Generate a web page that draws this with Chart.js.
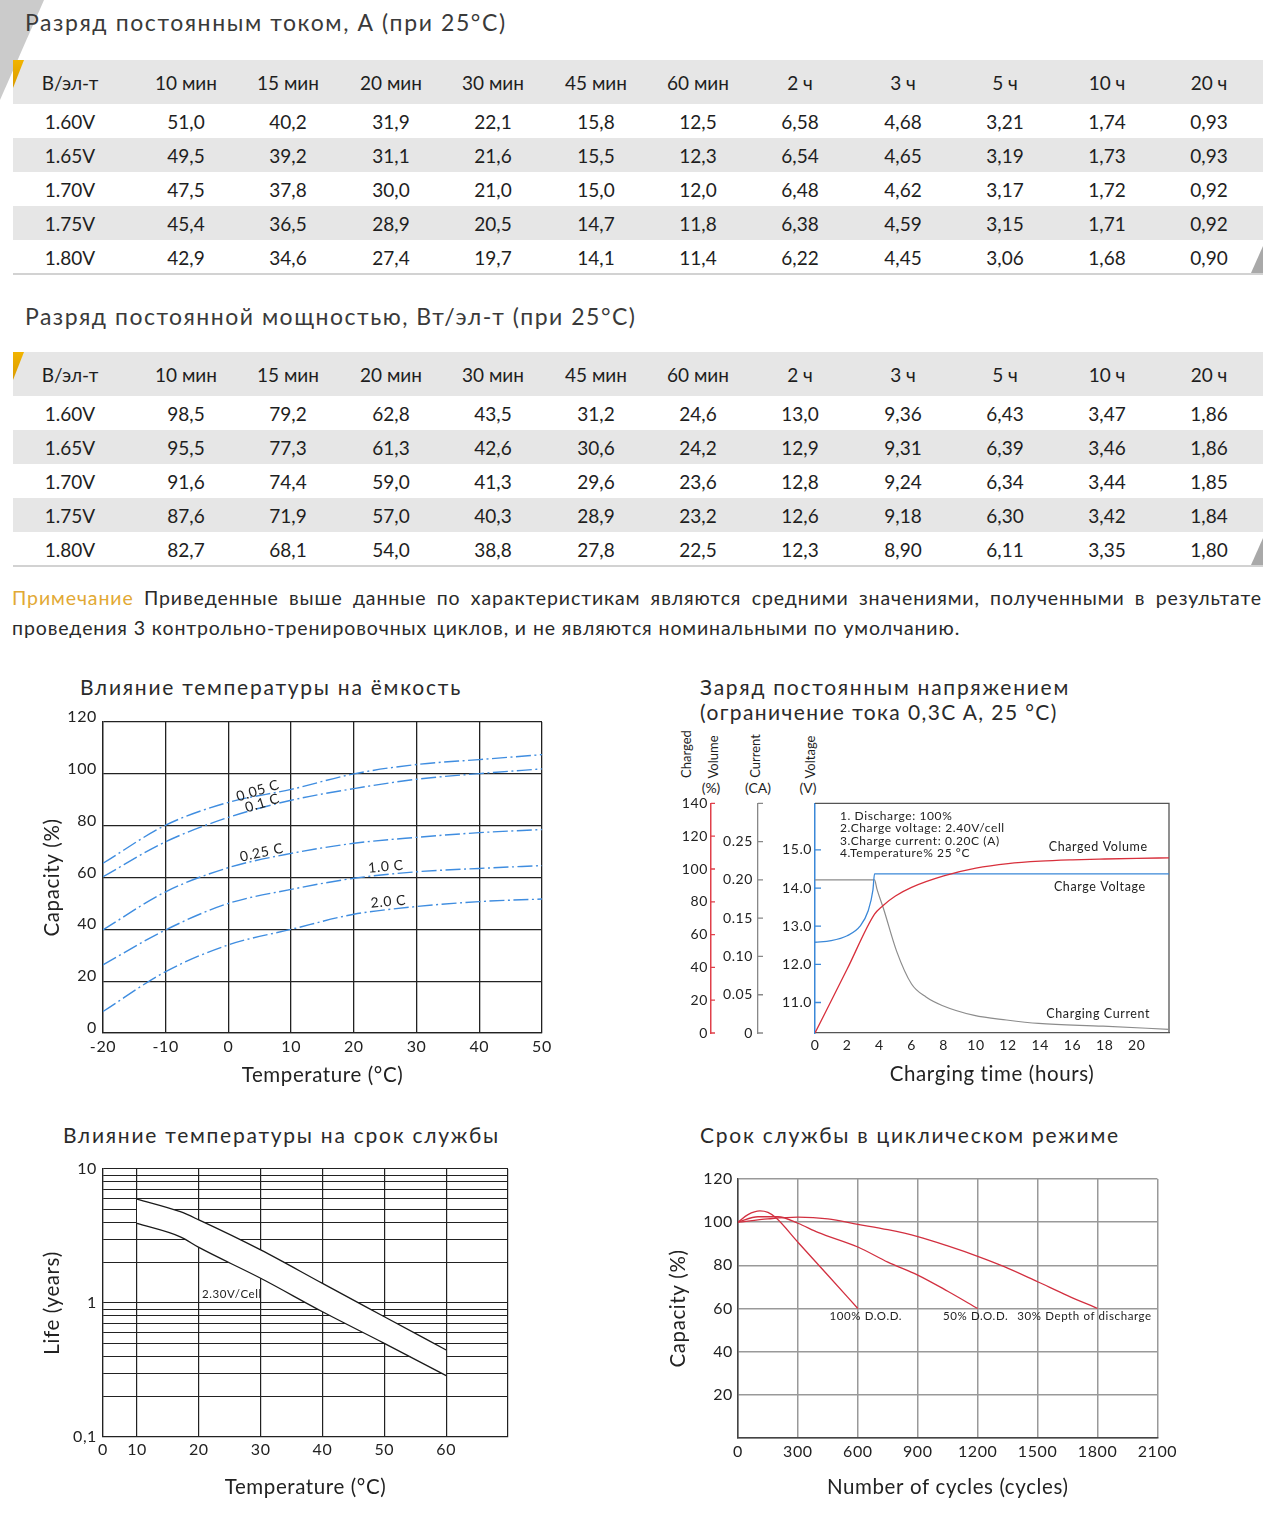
<!DOCTYPE html>
<html lang="ru">
<head>
<meta charset="utf-8">
<title>Характеристики разряда и заряда</title>
<script src="https://cdn.jsdelivr.net/npm/chart.js@4.4.1/dist/chart.umd.min.js"></script>
<style>
  body { margin: 0; width: 1280px; height: 1522px; position: relative; overflow: hidden;
         background: #fff; font-family: Lato, "Noto Sans", sans-serif; color: #1e1e1e; }
  .abs { position: absolute; white-space: nowrap; }
  .head { font-size: 23px; color: #3a3a3a; letter-spacing: 1.6px; line-height: 30px; }
  .ctitle { font-size: 21px; color: #2a2a2a; line-height: 25px; letter-spacing: 1.75px; }
  .row { position: absolute; left: 13px; width: 1250px; height: 34px; font-size: 19px; }
  .row span { position: absolute; top: 1px; line-height: 34px; transform: translateX(-50%); white-space: nowrap; }
  .row.hd { height: 44px; }
  .row.hd span { line-height: 44px; }
  .gray { background: #e6e6e6; }
  .rule { position: absolute; left: 13px; width: 1250px; height: 2px; background: #d2d2d2; }
  .mark { position: absolute; width: 11px; height: 28px; clip-path: polygon(0 0, 100% 0, 0 100%);
          background: linear-gradient(#f2b400, #d99a00); }
  .corner { position: absolute; width: 12px; height: 27px; clip-path: polygon(100% 0, 100% 100%, 0 100%); background: #a9a9a9; }
  .note { position: absolute; left: 12px; width: 1250px; font-size: 19.5px; letter-spacing: 0.9px; line-height: 30px; color: #2a2a2a; white-space: nowrap; }
  .rot { position: absolute; font-size: 13px; white-space: nowrap; transform: translate(-50%, -50%) rotate(-90deg); }
  .par { position: absolute; font-size: 14px; white-space: nowrap; transform: translate(-50%, -50%); }
</style>
</head>
<body>
<div class="abs" style="left:0;top:0;width:44px;height:100px;clip-path:polygon(0 0,100% 0,0 100%);background:#cbcbcb"></div>

<div class="abs head" style="left:25px;top:7px">Разряд постоянным током, А (при 25°C)</div>
<div id="t1"></div>
<div class="abs head" style="left:25px;top:301px;letter-spacing:1.5px">Разряд постоянной мощностью, Вт/эл-т (при 25°C)</div>
<div id="t2"></div>

<div class="note" style="top:583px;text-align:justify;text-align-last:justify;white-space:normal"><span style="color:#e2a934">Примечание</span> Приведенные выше данные по характеристикам являются средними значениями, полученными в результате</div>
<div class="note" style="top:613px">проведения 3 контрольно-тренировочных циклов, и не являются номинальными по умолчанию.</div>

<div class="abs ctitle" style="left:80px;top:674px">Влияние температуры на ёмкость</div>
<div class="abs ctitle" style="left:700px;top:674px">Заряд постоянным напряжением<br><span style="letter-spacing:1.4px">(ограничение тока 0,3C A, 25 °C)</span></div>
<div class="abs ctitle" style="left:63px;top:1122px">Влияние температуры на срок службы</div>
<div class="abs ctitle" style="left:700px;top:1122px">Срок службы в циклическом режиме</div>

<div class="rot" style="left:686px;top:754px">Charged</div>
<div class="rot" style="left:713px;top:757px">Volume</div>
<div class="par" style="left:711px;top:787px">(%)</div>
<div class="rot" style="left:755px;top:756px">Current</div>
<div class="par" style="left:758px;top:787px">(CA)</div>
<div class="rot" style="left:810px;top:757px">Voltage</div>
<div class="par" style="left:808px;top:787px">(V)</div>

<canvas id="c1" class="abs" width="540" height="400" style="left:20px;top:700px"></canvas>
<canvas id="c2" class="abs" width="520" height="300" style="left:660px;top:790px"></canvas>
<canvas id="c3" class="abs" width="500" height="350" style="left:20px;top:1150px"></canvas>
<canvas id="c4" class="abs" width="520" height="340" style="left:660px;top:1160px"></canvas>

<script>
'use strict';

// ---- table data ----
const tableHeaders = ['В/эл-т', '10 мин', '15 мин', '20 мин', '30 мин', '45 мин', '60 мин', '2 ч', '3 ч', '5 ч', '10 ч', '20 ч'];
const cellVoltages = ['1.60V', '1.65V', '1.70V', '1.75V', '1.80V'];
const currentA = [
    [51.0, 40.2, 31.9, 22.1, 15.8, 12.5, 6.58, 4.68, 3.21, 1.74, 0.93],
    [49.5, 39.2, 31.1, 21.6, 15.5, 12.3, 6.54, 4.65, 3.19, 1.73, 0.93],
    [47.5, 37.8, 30.0, 21.0, 15.0, 12.0, 6.48, 4.62, 3.17, 1.72, 0.92],
    [45.4, 36.5, 28.9, 20.5, 14.7, 11.8, 6.38, 4.59, 3.15, 1.71, 0.92],
    [42.9, 34.6, 27.4, 19.7, 14.1, 11.4, 6.22, 4.45, 3.06, 1.68, 0.90],
];
const currentDecimals = [1, 1, 1, 1, 1, 1, 2, 2, 2, 2, 2];
const powerW = [
    [98.5, 79.2, 62.8, 43.5, 31.2, 24.6, 13.0, 9.36, 6.43, 3.47, 1.86],
    [95.5, 77.3, 61.3, 42.6, 30.6, 24.2, 12.9, 9.31, 6.39, 3.46, 1.86],
    [91.6, 74.4, 59.0, 41.3, 29.6, 23.6, 12.8, 9.24, 6.34, 3.44, 1.85],
    [87.6, 71.9, 57.0, 40.3, 28.9, 23.2, 12.6, 9.18, 6.30, 3.42, 1.84],
    [82.7, 68.1, 54.0, 38.8, 27.8, 22.5, 12.3, 8.90, 6.11, 3.35, 1.80],
];
const powerDecimals = [1, 1, 1, 1, 1, 1, 1, 2, 2, 2, 2];

// ---- chart 1: capacity vs temperature ----
const capTemp = [-20, -10, 0, 10, 20, 30, 40, 50];
const cap005C = [65.5, 80.2, 89, 94, 100, 103.6, 105.5, 107.4];
const cap01C = [60.3, 73.8, 83.2, 89.8, 94.3, 97.9, 100.1, 101.9];
const cap025C = [39.8, 54.5, 63.8, 69.3, 73.2, 75.5, 77.3, 78.5];
const cap10C = [26.3, 39.8, 50, 55.4, 59.7, 62.2, 63.5, 64.6];
const cap20C = [8.3, 23.7, 34, 40, 45.8, 48.8, 50.7, 51.7];
const capLabels = [
    {text: '0.05 C', x: 4.7, y: 93.5},
    {text: '0.1 C', x: 5.4, y: 88.7},
    {text: '0.25 C', x: 5.3, y: 69.6},
    {text: '1.0 C', x: 25.1, y: 64.2},
    {text: '2.0 C', x: 25.5, y: 50.7},
];

// ---- chart 2: constant voltage charging ----
const volumeHours = [0, 2, 3.7, 4.2, 5, 6, 8, 10, 12, 14, 16, 18, 20, 22];
const chargedVolume = [0, 39, 72.5, 77.5, 83.5, 88.8, 95.8, 100.5, 103.3, 104.8, 105.6, 106.1, 106.5, 106.8];
const voltageHours = [0, 1, 2, 2.8, 3.3, 3.6, 3.7, 22];
const chargeVoltage = [12.58, 12.62, 12.75, 13.0, 13.4, 13.95, 14.37, 14.37];
const currentHours = [0, 3.7, 3.85, 4.25, 5.07, 6, 6.9, 7.9, 9.9, 11.9, 13.9, 17.9, 22];
const chargeCurrent = [0.2, 0.2, 0.188, 0.163, 0.107, 0.064, 0.047, 0.036, 0.023, 0.017, 0.0125, 0.009, 0.0048];
const voltTicks = [11, 12, 13, 14, 15];
const chargeNotes = [
    {text: '1. Discharge: 100%', x: 1.55, y: 15.88},
    {text: '2.Charge voltage: 2.40V/cell', x: 1.55, y: 15.56},
    {text: '3.Charge current: 0.20C (A)', x: 1.55, y: 15.23},
    {text: '4.Temperature% 25 °C', x: 1.55, y: 14.92},
];
const chargeCurveLabels = [
    {text: 'Charged Volume', x: 17.6, y: 15.08},
    {text: 'Charge Voltage', x: 17.7, y: 14.04},
    {text: 'Charging Current', x: 17.6, y: 10.71},
];

// ---- chart 3: service life vs temperature ----
const lifeTemp = [10, 17, 20, 30, 40, 50, 60];
const lifeUpper = [5.97, 4.8, 4.17, 2.49, 1.40, 0.79, 0.446];
const lifeLower = [3.93, 3.12, 2.6, 1.53, 0.86, 0.50, 0.287];
const lifeTempTicks = [4.5, 10, 20, 30, 40, 50, 60, 70];
const lifeYearTicks = [0.1, 0.2, 0.3, 0.4, 0.5, 0.6, 0.7, 0.8, 0.9, 1, 2, 3, 4, 5, 6, 7, 8, 9, 10];
const lifeLabels = [{text: '2.30V/Cell', x: 20.5, y: 1.17}];

// ---- chart 4: cycle life ----
const dod100Cycles = [0, 50, 110, 150, 190, 300, 450, 600];
const dod100Cap = [100, 103.5, 105.2, 104.5, 102, 90.7, 75.4, 60];
const dod50Cycles = [0, 100, 200, 300, 400, 600, 750, 900, 1050, 1200];
const dod50Cap = [100, 102.5, 102.5, 99.5, 95.3, 88.5, 81.5, 75.5, 68, 60];
const dod30Cycles = [0, 150, 300, 450, 600, 750, 900, 1050, 1200, 1333, 1500, 1650, 1800];
const dod30Cap = [100, 101.5, 102.3, 101.5, 99, 96.5, 93.3, 89, 84.2, 79.4, 72.4, 66, 60];
const cycleLabels = [
    {text: '100% D.O.D.', x: 640, y: 56.5},
    {text: '50% D.O.D.', x: 1190, y: 56.5},
    {text: '30% Depth of discharge', x: 1735, y: 56.5},
];

// ---- tables ----
const colCenters = [70, 186, 288, 391, 493, 596, 698, 800, 903, 1005, 1107, 1209];

function fmt(n, d) {
    return n.toFixed(d).replace('.', ',');
}

function build_table(holder, top, values, decimals) {
    const rows = [tableHeaders].concat(cellVoltages.map((v, r) =>
        [v].concat(values[r].map((n, c) => fmt(n, decimals[c])))));
    let y = top;
    rows.forEach((cells, r) => {
        const row = document.createElement('div');
        row.className = 'row' + (r === 0 ? ' hd gray' : (r % 2 === 0 ? ' gray' : ''));
        row.style.top = y + 'px';
        cells.forEach((txt, c) => {
            const s = document.createElement('span');
            s.textContent = txt;
            s.style.left = (colCenters[c] - 13) + 'px';
            row.appendChild(s);
        });
        holder.appendChild(row);
        y += r === 0 ? 44 : 34;
    });
    const rule = document.createElement('div');
    rule.className = 'rule';
    rule.style.top = (y - 1) + 'px';
    holder.appendChild(rule);
    const mark = document.createElement('div');
    mark.className = 'mark';
    mark.style.left = '13px';
    mark.style.top = top + 'px';
    holder.appendChild(mark);
    const corner = document.createElement('div');
    corner.className = 'corner';
    corner.style.left = '1251px';
    corner.style.top = (y - 28) + 'px';
    holder.appendChild(corner);
}

build_table(document.getElementById('t1'), 60, currentA, currentDecimals);
build_table(document.getElementById('t2'), 352, powerW, powerDecimals);

// ---- charts ----
const FONT = 'Lato, "Noto Sans", sans-serif';
Chart.defaults.font.family = FONT;
Chart.defaults.color = '#222';

// the original artwork uses a wide typeface, so widen canvas text a little
Chart.register({
    id: 'spacing',
    beforeDraw(chart) { chart.ctx.letterSpacing = '0.6px'; },
    afterDraw(chart) { chart.ctx.letterSpacing = '0px'; }
});

function points(xs, ys) {
    return xs.map((x, i) => ({x: x, y: ys[i]}));
}

function text_plugin(items, xId, yId, size, align, rotations) {
    return {
        id: 'textItems',
        afterDatasetsDraw(chart) {
            const ctx = chart.ctx;
            const xs = chart.scales[xId], ys = chart.scales[yId];
            items.forEach((it, i) => {
                ctx.save();
                ctx.translate(xs.getPixelForValue(it.x), ys.getPixelForValue(it.y));
                ctx.rotate(((rotations && rotations[i]) || 0) * Math.PI / 180);
                ctx.font = size + 'px ' + FONT;
                ctx.fillStyle = '#222';
                ctx.textAlign = align;
                ctx.textBaseline = 'middle';
                ctx.fillText(it.text, 0, 0);
                ctx.restore();
            });
        }
    };
}

const baseOptions = {
    responsive: false,
    animation: false,
    plugins: {legend: {display: false}, tooltip: {enabled: false}},
    elements: {point: {radius: 0}, line: {borderWidth: 1.4}},
};
const titleFont = {size: 20.5};

// chart 1
const blue = '#3f8de0';
const dashDot = [15, 3.5, 2, 3.5];
new Chart(document.getElementById('c1'), {
    type: 'line',
    data: {
        datasets: [cap005C, cap01C, cap025C, cap10C, cap20C].map((s) => ({
            data: points(capTemp, s),
            borderColor: blue,
            borderDash: dashDot,
            cubicInterpolationMode: 'monotone',
        }))
    },
    options: Object.assign({}, baseOptions, {
        layout: {padding: {top: 22, right: 18, left: 0, bottom: 0}},
        scales: {
            x: {
                type: 'linear', min: -20, max: 50,
                ticks: {stepSize: 10, padding: 4, font: {size: 16}},
                grid: {color: '#222', lineWidth: 1.3, drawTicks: false},
                border: {color: '#222', width: 1.3},
                title: {display: true, text: 'Temperature (°C)', font: titleFont, padding: {top: 0, bottom: 12.7}},
                afterFit: (s) => { s.height = 67; }
            },
            y: {
                min: 0, max: 120,
                ticks: {stepSize: 20, padding: 6, labelOffset: -5, font: {size: 16}},
                grid: {color: '#222', lineWidth: 1.3, drawTicks: false},
                border: {color: '#222', width: 1.3},
                title: {display: true, text: 'Capacity (%)', font: titleFont, padding: {top: 19.7, bottom: 0}},
                afterFit: (s) => { s.width = 83; }
            }
        }
    }),
    plugins: [text_plugin(capLabels, 'x', 'y', 14, 'center', [-17, -17, -12, -5, -5])]
});

// chart 2
const red = '#d8303c';
const voltBlue = '#3b88d8';
const innerTicks = {
    id: 'innerTicks',
    afterDraw(chart) {
        const ctx = chart.ctx;
        [['yPct', '#e0404a', 4], ['yCur', '#888', 5], ['yV', voltBlue, 6]].forEach(([id, color, len]) => {
            const s = chart.scales[id];
            ctx.save();
            ctx.strokeStyle = color;
            ctx.lineWidth = 1.3;
            ctx.beginPath();
            s.ticks.forEach((t, i) => {
                const y = s.getPixelForTick(i);
                ctx.moveTo(s.right, y);
                ctx.lineTo(s.right + len, y);
            });
            ctx.stroke();
            ctx.restore();
        });
    }
};
const frame = {
    id: 'frame',
    beforeDatasetsDraw(chart) {
        const {ctx, chartArea: a} = chart;
        ctx.save();
        ctx.strokeStyle = '#555';
        ctx.lineWidth = 1.3;
        ctx.beginPath();
        ctx.moveTo(a.left, a.top);
        ctx.lineTo(a.right, a.top);
        ctx.lineTo(a.right, a.bottom);
        ctx.stroke();
        ctx.restore();
    }
};
new Chart(document.getElementById('c2'), {
    type: 'line',
    data: {
        datasets: [
            {data: points(volumeHours, chargedVolume), yAxisID: 'yPct', borderColor: red, borderWidth: 1.3, cubicInterpolationMode: 'monotone'},
            {data: points(voltageHours, chargeVoltage), yAxisID: 'yV', borderColor: voltBlue, borderWidth: 1.3, cubicInterpolationMode: 'monotone'},
            {data: points(currentHours, chargeCurrent), yAxisID: 'yCur', borderColor: '#8c8c8c', borderWidth: 1.2, cubicInterpolationMode: 'monotone'},
        ]
    },
    options: Object.assign({}, baseOptions, {
        layout: {padding: {top: 11, right: 11, left: 0, bottom: 0}},
        scales: {
            x: {
                type: 'linear', min: 0, max: 22,
                ticks: {stepSize: 2, padding: 4, font: {size: 14}, callback: (v) => (v > 20 ? '' : v)},
                grid: {display: false, drawTicks: false},
                border: {color: '#555', width: 1.3},
                title: {display: true, text: 'Charging time (hours)', font: titleFont, padding: {top: 0, bottom: 3.7}},
                afterFit: (s) => { s.height = 57; }
            },
            yV: {
                position: 'left', weight: 1, min: 10.2, max: 16.22,
                afterBuildTicks: (s) => { s.ticks = voltTicks.map((v) => ({value: v})); },
                ticks: {padding: 3, font: {size: 14}, callback: (v) => v.toFixed(1)},
                grid: {display: false, drawTicks: false},
                border: {color: voltBlue, width: 1.5},
                afterFit: (s) => { s.width = 57; }
            },
            yCur: {
                position: 'left', weight: 2, min: 0, max: 0.3,
                ticks: {stepSize: 0.05, padding: 5, font: {size: 14},
                    callback: (v) => (v === 0 ? '0' : (v > 0.27 ? '' : v.toFixed(2)))},
                grid: {display: false, drawTicks: false},
                border: {color: '#888', width: 1.3},
                afterFit: (s) => { s.width = 47; }
            },
            yPct: {
                position: 'left', weight: 3, min: 0, max: 140,
                ticks: {stepSize: 20, padding: 3, font: {size: 14}},
                grid: {display: false, drawTicks: false},
                border: {color: '#e0404a', width: 1.5},
                afterFit: (s) => { s.width = 51; }
            }
        }
    }),
    plugins: [frame, innerTicks,
        text_plugin(chargeNotes, 'x', 'yV', 12, 'left'),
        text_plugin(chargeCurveLabels, 'x', 'yV', 12.5, 'center')]
});

// chart 3
new Chart(document.getElementById('c3'), {
    type: 'line',
    data: {
        datasets: [
            {data: points(lifeTemp, lifeUpper), borderColor: '#1a1a1a', borderWidth: 1.3, cubicInterpolationMode: 'monotone'},
            {data: points(lifeTemp, lifeLower), borderColor: '#1a1a1a', borderWidth: 1.3, cubicInterpolationMode: 'monotone',
                fill: '-1', backgroundColor: '#ffffff'},
        ]
    },
    options: Object.assign({}, baseOptions, {
        layout: {padding: {top: 19, right: 12, left: 0, bottom: 0}},
        scales: {
            x: {
                type: 'linear', min: 4.5, max: 70,
                afterBuildTicks: (s) => { s.ticks = lifeTempTicks.map((v) => ({value: v})); },
                ticks: {autoSkip: false, padding: 3, font: {size: 16},
                    callback: (v) => (v === 4.5 ? '0' : (v === 70 ? '' : '' + v))},
                grid: {color: '#222', lineWidth: 1.2, drawTicks: false},
                border: {color: '#222', width: 1.2},
                title: {display: true, text: 'Temperature (°C)', font: titleFont, padding: {top: 0, bottom: 0.7}},
                afterFit: (s) => { s.height = 63; }
            },
            y: {
                type: 'logarithmic', min: 0.1, max: 10,
                afterBuildTicks: (s) => { s.ticks = lifeYearTicks.map((v) => ({value: v})); },
                ticks: {autoSkip: false, padding: 6, font: {size: 16},
                    callback: (v) => (v === 10 ? '10' : (v === 1 ? '1' : (v === 0.1 ? '0,1' : '')))},
                grid: {color: '#222', lineWidth: 1.1, drawTicks: false},
                border: {color: '#222', width: 1.2},
                title: {display: true, text: 'Life (years)', font: titleFont, padding: {top: 19.7, bottom: 0}},
                afterFit: (s) => { s.width = 83; }
            }
        }
    }),
    plugins: [text_plugin(lifeLabels, 'x', 'y', 11.5, 'left')]
});

// chart 4
const cycRed = '#d23040';
new Chart(document.getElementById('c4'), {
    type: 'line',
    data: {
        datasets: [
            {data: points(dod100Cycles, dod100Cap), borderColor: cycRed, borderWidth: 1.3, cubicInterpolationMode: 'monotone'},
            {data: points(dod50Cycles, dod50Cap), borderColor: cycRed, borderWidth: 1.3, cubicInterpolationMode: 'monotone'},
            {data: points(dod30Cycles, dod30Cap), borderColor: cycRed, borderWidth: 1.3, cubicInterpolationMode: 'monotone'},
        ]
    },
    options: Object.assign({}, baseOptions, {
        layout: {padding: {top: 19, right: 18, left: 0, bottom: 0}},
        scales: {
            x: {
                type: 'linear', min: 0, max: 2100,
                ticks: {stepSize: 300, padding: 4, font: {size: 16}, callback: (v) => '' + v},
                grid: {color: '#999', lineWidth: 1.5, drawTicks: false},
                border: {color: '#444', width: 1.5},
                title: {display: true, text: 'Number of cycles (cycles)', font: titleFont, padding: {top: 0, bottom: 0.7}},
                afterFit: (s) => { s.height = 62; }
            },
            y: {
                min: 0, max: 120,
                ticks: {stepSize: 20, padding: 5, font: {size: 16}, callback: (v) => (v === 0 ? '' : '' + v)},
                grid: {color: '#999', lineWidth: 1.5, drawTicks: false},
                border: {color: '#444', width: 1.5},
                title: {display: true, text: 'Capacity (%)', font: titleFont, padding: {top: 5.7, bottom: 0}},
                afterFit: (s) => { s.width = 78; }
            }
        }
    }),
    plugins: [text_plugin(cycleLabels, 'x', 'y', 11.5, 'center')]
});
</script>
</body>
</html>
